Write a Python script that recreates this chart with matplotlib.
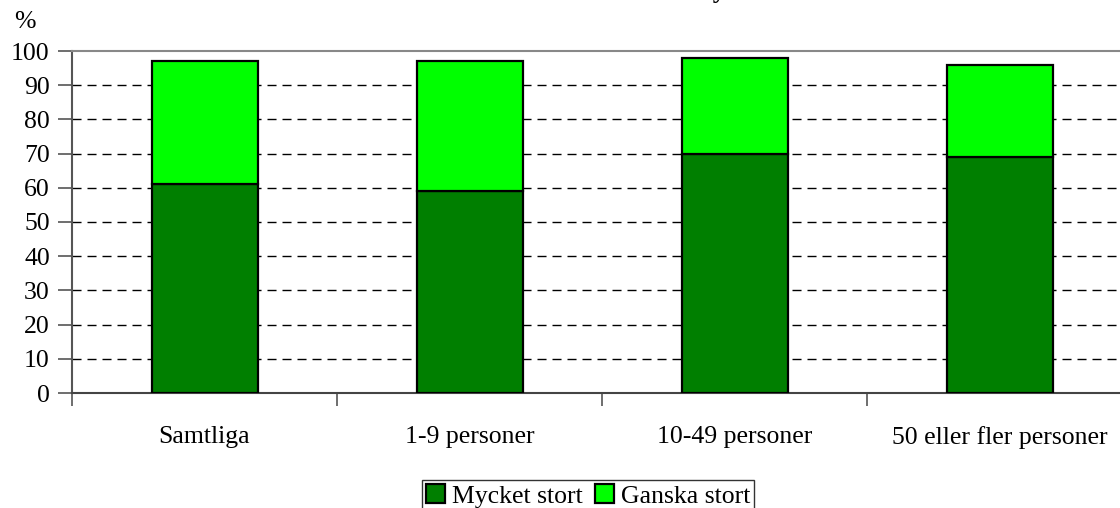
import matplotlib.pyplot as plt
import numpy as np

categories = ['Samtliga', '1-9 personer', '10-49 personer', '50 eller fler personer']
mycket_stort = [61, 59, 70, 69]
ganska_stort = [36, 38, 28, 27]
yticks = [0, 10, 20, 30, 40, 50, 60, 70, 80, 90, 100]
title = 'Andel som anser att datorer har stor betydelse i arbetet'

plt.rcParams['font.family'] = ['Liberation Serif', 'DejaVu Serif']
fs = 18.5

fig = plt.figure(figsize=(11.2, 5.08), dpi=100)
ax = fig.add_axes([72 / 1120, 115 / 508, 1060 / 1120, 342 / 508])

x = np.arange(len(categories)) + 0.5
ax.bar(x, mycket_stort, width=0.4, color='#007F00', edgecolor='black', linewidth=1.6,
       label='Mycket stort', zorder=3)
ax.bar(x, ganska_stort, width=0.4, bottom=mycket_stort, color='#00FF00', edgecolor='black',
       linewidth=1.6, label='Ganska stort', zorder=3)

ax.set_xlim(0, 4)
ax.set_ylim(0, 100)
ax.set_yticks(yticks)
ax.set_yticklabels([str(t) for t in yticks], fontsize=fs)
ax.tick_params(axis='y', direction='out', length=10, width=1.2, color='#555555', pad=6)

# category labels in the middle, ticks on the boundaries
ax.set_xticks(x)
ax.set_xticklabels(categories, fontsize=fs)
ax.tick_params(axis='x', which='major', length=0, pad=24)
ax.set_xticks(np.arange(0, 5), minor=True)
ax.tick_params(axis='x', which='minor', direction='out', length=9, width=1.2, color='#555555')

for t in yticks[1:-1]:
    ax.axhline(t, color='black', linestyle=(0, (6.5, 4.3)), linewidth=1, zorder=1)

ax.spines['right'].set_visible(False)
ax.spines['top'].set_color('#888888')
ax.spines['top'].set_linewidth(1.5)
ax.spines['left'].set_color('#555555')
ax.spines['left'].set_linewidth(1.5)
ax.spines['bottom'].set_color('#444444')
ax.spines['bottom'].set_linewidth(1.5)

fig.text(14 / 1120, 1 - 22 / 508, '%', fontsize=fs, ha='left', va='center')
# the title sits almost entirely above the top edge, as in the reference
fig.text(575 / 1120, 1 + 2 / 508, title, fontsize=fs, fontweight='bold', ha='center', va='baseline')

leg = fig.legend(loc='center', bbox_to_anchor=(588 / 1120, 1 - 496 / 508), ncol=2, fontsize=fs,
                 frameon=True, fancybox=False, edgecolor='black', handlelength=0.75, handleheight=0.75,
                 handletextpad=0.25, columnspacing=0.5, borderpad=0.15, borderaxespad=0)
leg.get_frame().set_linewidth(1)

fig.savefig('out.png', dpi=100)
